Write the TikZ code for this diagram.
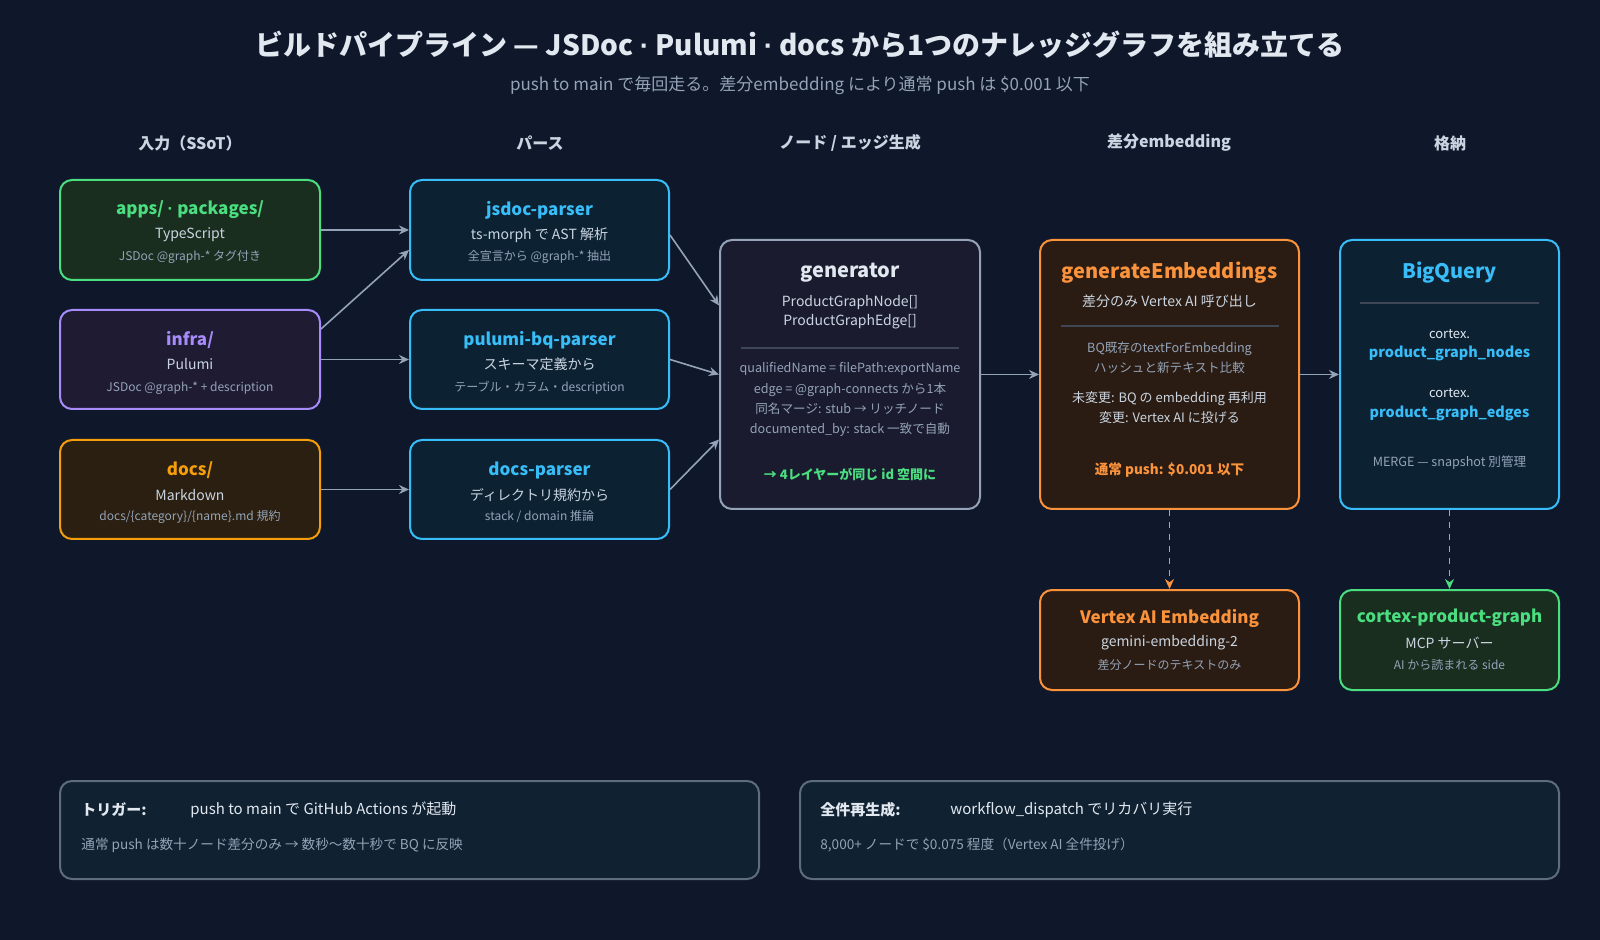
\documentclass[tikz,border=0pt]{standalone}
\usepackage{fontspec}
\setmainfont{Noto Sans CJK JP}
\newfontfamily\latdot{Liberation Sans}
\newcommand{\mdot}{{\latdot ·}}
\usetikzlibrary{arrows.meta}
\definecolor{bg}{HTML}{0F172A}
\definecolor{txt}{HTML}{E2E8F0}
\definecolor{sub}{HTML}{CBD5E1}
\definecolor{dim}{HTML}{94A3B8}
\definecolor{cgreen}{HTML}{4ADE80}
\definecolor{cpurple}{HTML}{A78BFA}
\definecolor{camber}{HTML}{F59E0B}
\definecolor{cblue}{HTML}{38BDF8}
\definecolor{corange}{HTML}{FB923C}
\definecolor{cgray}{HTML}{94A3B8}
\definecolor{fgreen}{HTML}{1A2E1F}
\definecolor{fpurple}{HTML}{1E1B33}
\definecolor{famber}{HTML}{2A1F10}
\definecolor{fblue}{HTML}{0C2233}
\definecolor{fgen}{HTML}{1A1B2E}
\definecolor{forange}{HTML}{2A1C12}
\definecolor{fnote}{HTML}{102131}
\definecolor{divider}{HTML}{3F4656}
\tikzset{
  box/.style={rectangle, rounded corners=6pt, line width=1pt, inner sep=0pt},
  title/.style={font=\bfseries\fontsize{8.5}{10}\selectfont},
  head/.style={font=\bfseries\fontsize{8}{10}\selectfont, text=sub},
  line/.style={font=\fontsize{7}{9}\selectfont, text=sub},
  small/.style={font=\fontsize{6}{8}\selectfont, text=dim},
  note/.style={anchor=west, inner sep=0pt},
  arrow/.style={draw=cgray, line width=0.8pt, -{Stealth[length=5pt,width=4.5pt]}},
  dasharrow/.style={line width=0.8pt, dashed, -{Stealth[length=5pt,width=4.5pt]}}
}
\begin{document}
\begin{tikzpicture}[x=0.5pt, y=-0.5pt]

        % Background
        \fill[bg] (0,0) rectangle (1600,940);

        % Title
        \node (title) [font=\bfseries\fontsize{14}{16}\selectfont, text=txt] at (800,45) {ビルドパイプライン — JSDoc \mdot{} Pulumi \mdot{} docs から1つのナレッジグラフを組み立てる};
        \node (subtitle) [font=\fontsize{8.5}{10}\selectfont, text=dim] at (800,85) {push to main で毎回走る。差分embedding により通常 push は \$0.001 以下};

        % Column headers
        \node (h1) [head] at (190,143) {入力（SSoT）};
        \node (h2) [head] at (540,143) {パース};
        \node (h3) [head] at (850,143) {ノード / エッジ生成};
        \node (h4) [head] at (1169,143) {差分embedding};
        \node (h5) [head] at (1450,143) {格納};

        % Input boxes
        \node (apps) [box, draw=cgreen, fill=fgreen, minimum width=130pt, minimum height=50pt] at (190,230) {};
        \node (infra) [box, draw=cpurple, fill=fpurple, minimum width=130pt, minimum height=49.5pt] at (190,359.5) {};
        \node (docs) [box, draw=camber, fill=famber, minimum width=130pt, minimum height=49.5pt] at (190,489.5) {};
        \node [title, text=cgreen] at (190,210) {apps/ \mdot{} packages/};
        \node [line] at (190,235) {TypeScript};
        \node [small] at (190,257) {JSDoc @graph-* タグ付き};
        \node [title, text=cpurple] at (190,340) {infra/};
        \node [line] at (190,364) {Pulumi};
        \node [small] at (190,388) {JSDoc @graph-* + description};
        \node [title, text=camber] at (190,470) {docs/};
        \node [line] at (190,495) {Markdown};
        \node [small] at (190,517) {docs/\{category\}/\{name\}.md 規約};

        % Parsers
        \node (jsdoc) [box, draw=cblue, fill=fblue, minimum width=129.5pt, minimum height=50pt] at (539.5,230) {};
        \node (pulumi) [box, draw=cblue, fill=fblue, minimum width=129.5pt, minimum height=49.5pt] at (539.5,359.5) {};
        \node (docsp) [box, draw=cblue, fill=fblue, minimum width=129.5pt, minimum height=49.5pt] at (539.5,489.5) {};
        \node [title, text=cblue] at (539.5,210) {jsdoc-parser};
        \node [line] at (539.5,235) {ts-morph で AST 解析};
        \node [small] at (539.5,257) {全宣言から @graph-* 抽出};
        \node [title, text=cblue] at (539.5,340) {pulumi-bq-parser};
        \node [line] at (539.5,364) {スキーマ定義から};
        \node [small] at (539.5,388) {テーブル・カラム・description};
        \node [title, text=cblue] at (539.5,470) {docs-parser};
        \node [line] at (539.5,495) {ディレクトリ規約から};
        \node [small] at (539.5,517) {stack / domain 推論};

        % Generator
        \node (gen) [box, draw=cgray, fill=fgen, minimum width=130pt, minimum height=134.5pt] at (850,374.5) {};
        \node [title, text=txt, font=\bfseries\fontsize{10}{12}\selectfont] at (850,273) {generator};
        \node [line] at (850,303) {ProductGraphNode[]};
        \node [line] at (850,322) {ProductGraphEdge[]};
        \draw[divider, line width=0.8pt] (741,348) -- (959,348);
        \node [small, font=\fontsize{6.3}{8}\selectfont] at (850,369) {qualifiedName = filePath:exportName};
        \node [small, font=\fontsize{6.3}{8}\selectfont] at (850,390) {edge = @graph-connects から1本};
        \node [small, font=\fontsize{6.3}{8}\selectfont] at (850,409) {同名マージ: stub → リッチノード};
        \node [small, font=\fontsize{6.3}{8}\selectfont] at (850,430) {documented\_by: stack 一致で自動};
        \node [font=\bfseries\fontsize{6.5}{8}\selectfont, text=cgreen] at (850,474) {→ 4レイヤーが同じ id 空間に};

        % Embeddings
        \node (embed) [box, draw=corange, fill=forange, minimum width=129.5pt, minimum height=134.5pt] at (1169.5,374.5) {};
        \node [title, text=corange, font=\bfseries\fontsize{10}{12}\selectfont] at (1169.5,273) {generateEmbeddings};
        \node [line] at (1169.5,301) {差分のみ Vertex AI 呼び出し};
        \draw[divider, line width=0.8pt] (1061,326) -- (1279,326);
        \node [small, font=\fontsize{6.3}{8}\selectfont] at (1169.5,349) {BQ既存のtextForEmbedding};
        \node [small, font=\fontsize{6.3}{8}\selectfont] at (1169.5,368) {ハッシュと新テキスト比較};
        \node [line, font=\fontsize{6.5}{8}\selectfont] at (1169.5,399) {未変更: BQ の embedding 再利用};
        \node [line, font=\fontsize{6.5}{8}\selectfont] at (1169.5,418) {変更: Vertex AI に投げる};
        \node [font=\bfseries\fontsize{6.8}{8}\selectfont, text=corange] at (1169.5,470) {通常 push: \$0.001 以下};

        % BigQuery
        \node (bq) [box, draw=cblue, fill=fblue, minimum width=109.5pt, minimum height=134.5pt] at (1449.5,374.5) {};
        \node [title, text=cblue, font=\bfseries\fontsize{10}{12}\selectfont] at (1449.5,273) {BigQuery};
        \draw[divider, line width=0.8pt] (1360,303) -- (1539,303);
        \node [line, font=\fontsize{6.5}{8}\selectfont, text=txt] at (1449.5,334) {cortex.};
        \node [font=\bfseries\fontsize{7.2}{9}\selectfont, text=cblue] at (1449.5,353) {product\_graph\_nodes};
        \node [line, font=\fontsize{6.5}{8}\selectfont, text=txt] at (1449.5,393) {cortex.};
        \node [font=\bfseries\fontsize{7.2}{9}\selectfont, text=cblue] at (1449.5,413) {product\_graph\_edges};
        \node [small, font=\fontsize{6.3}{8}\selectfont] at (1449.5,463) {MERGE — snapshot 別管理};

        % Downstream
        \node (vertex) [box, draw=corange, fill=forange, minimum width=129.5pt, minimum height=50pt] at (1169.5,640) {};
        \node [title, text=corange] at (1169.5,618) {Vertex AI Embedding};
        \node [line] at (1169.5,643) {gemini-embedding-2};
        \node [small] at (1169.5,665) {差分ノードのテキストのみ};
        \node (mcp) [box, draw=cgreen, fill=fgreen, minimum width=109.5pt, minimum height=50pt] at (1449.5,640) {};
        \node [title, text=cgreen] at (1449.5,618) {cortex-product-graph};
        \node [line] at (1449.5,643) {MCP サーバー};
        \node [small] at (1449.5,665) {AI から読まれる side};

        % Arrows
        \draw [arrow] (apps) -- (jsdoc);
        \draw [arrow] ([yshift=15.25pt]infra.east) -- ([yshift=-10pt]jsdoc.west);
        \draw [arrow] (infra) -- (pulumi);
        \draw [arrow] (docs) -- (docsp);
        \draw [arrow] ([yshift=-2.5pt]jsdoc.east) -- ([yshift=34.5pt]gen.west);
        \draw [arrow] (pulumi.east) -- (gen.west);
        \draw [arrow] (docsp.east) -- ([yshift=-32.5pt]gen.west);
        \draw [arrow] (gen) -- (embed);
        \draw [arrow] (embed) -- (bq);
        \draw [dasharrow, draw=corange] (embed) -- (vertex);
        \draw [dasharrow, draw=cgreen] (bq) -- (mcp);

        % Notes
        \node (trigger) [box, draw=cgray!60!bg, fill=fnote, minimum width=349.5pt, minimum height=49pt] at (409.5,830) {};
        \node [note, font=\bfseries\fontsize{7.5}{9}\selectfont, text=txt] at (81,810) {トリガー:};
        \node [note, line, font=\fontsize{7.5}{9}\selectfont, text=txt] at (190,810) {push to main で GitHub Actions が起動};
        \node [note, line, font=\fontsize{6.8}{8}\selectfont, text=dim] at (81,845) {通常 push は数十ノード差分のみ → 数秒〜数十秒で BQ に反映};
        \node (rebuild) [box, draw=cgray!60!bg, fill=fnote, minimum width=379.5pt, minimum height=49pt] at (1179.5,830) {};
        \node [note, font=\bfseries\fontsize{7.5}{9}\selectfont, text=txt] at (820,810) {全件再生成:};
        \node [note, line, font=\fontsize{7.5}{9}\selectfont, text=txt] at (950,810) {workflow\_dispatch でリカバリ実行};
        \node [note, line, font=\fontsize{6.8}{8}\selectfont, text=dim] at (820,845) {8,000+ ノードで \$0.075 程度（Vertex AI 全件投げ）};

    \end{tikzpicture}
\end{document}
